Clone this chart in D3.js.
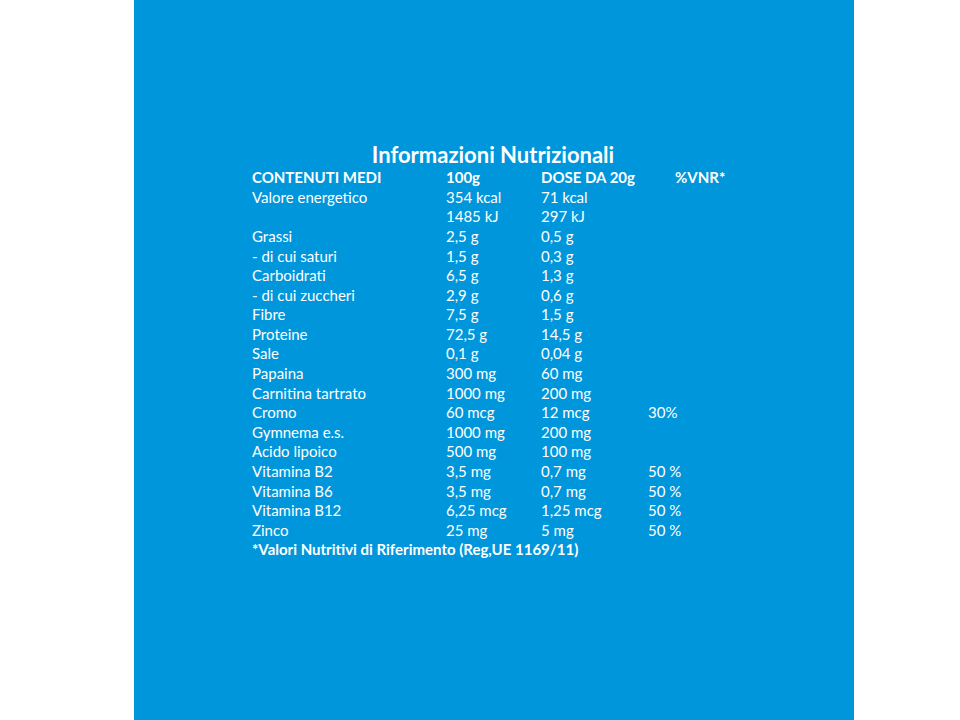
<!DOCTYPE html><html><head><meta charset="utf-8"><script src="https://cdn.jsdelivr.net/npm/d3@7"></script>
<style>body{margin:0;background:#fff}</style></head><body><svg id="c" width="960" height="720"></svg>
<script>
const title="Informazioni Nutrizionali";
const headers=["CONTENUTI MEDI","100g","DOSE DA 20g","%VNR*"];
const names=["Valore energetico","","Grassi","- di cui saturi","Carboidrati","- di cui zuccheri","Fibre","Proteine","Sale","Papaina","Carnitina tartrato","Cromo","Gymnema e.s.","Acido lipoico","Vitamina B2","Vitamina B6","Vitamina B12","Zinco"];
const per100=["354 kcal","1485 kJ","2,5 g","1,5 g","6,5 g","2,9 g","7,5 g","72,5 g","0,1 g","300 mg","1000 mg","60 mcg","1000 mg","500 mg","3,5 mg","3,5 mg","6,25 mcg","25 mg"];
const dose=["71 kcal","297 kJ","0,5 g","0,3 g","1,3 g","0,6 g","1,5 g","14,5 g","0,04 g","60 mg","200 mg","12 mcg","200 mg","100 mg","0,7 mg","0,7 mg","1,25 mcg","5 mg"];
const vnr=["","","","","","","","","","","","30%","","","50 %","50 %","50 %","50 %"];
const footnote="*Valori Nutritivi di Riferimento (Reg,UE 1169/11)";
const svg=d3.select("#c");
svg.append("rect").attr("x",134).attr("y",0).attr("width",720).attr("height",720).attr("fill","#0096DB");
const F="Lato, 'Open Sans', sans-serif";
const y=d3.scaleLinear().domain([0,19]).range([178,550]);
svg.append("text").attr("x",493).attr("y",163).attr("text-anchor","middle").attr("fill","#fff").attr("font-family",F).attr("font-weight","bold").attr("font-size",22).text(title);
const cx=[252,446,541,648];
const hx=[252,446,541,675];
const g=svg.append("g").attr("fill","#fff").attr("font-family",F).attr("font-size",15);
headers.forEach((h,i)=>g.append("text").attr("x",hx[i]).attr("y",y(0)).attr("dy","0.35em").attr("font-weight","bold").text(h));
const cols=[names,per100,dose,vnr];
cols.forEach((col,ci)=>col.forEach((t,ri)=>{if(t)g.append("text").attr("x",cx[ci]).attr("y",y(ri+1)).attr("dy","0.35em").text(t);}));
g.append("text").attr("x",252).attr("y",y(19)).attr("dy","0.35em").attr("font-weight","bold").text(footnote);
</script></body></html>
